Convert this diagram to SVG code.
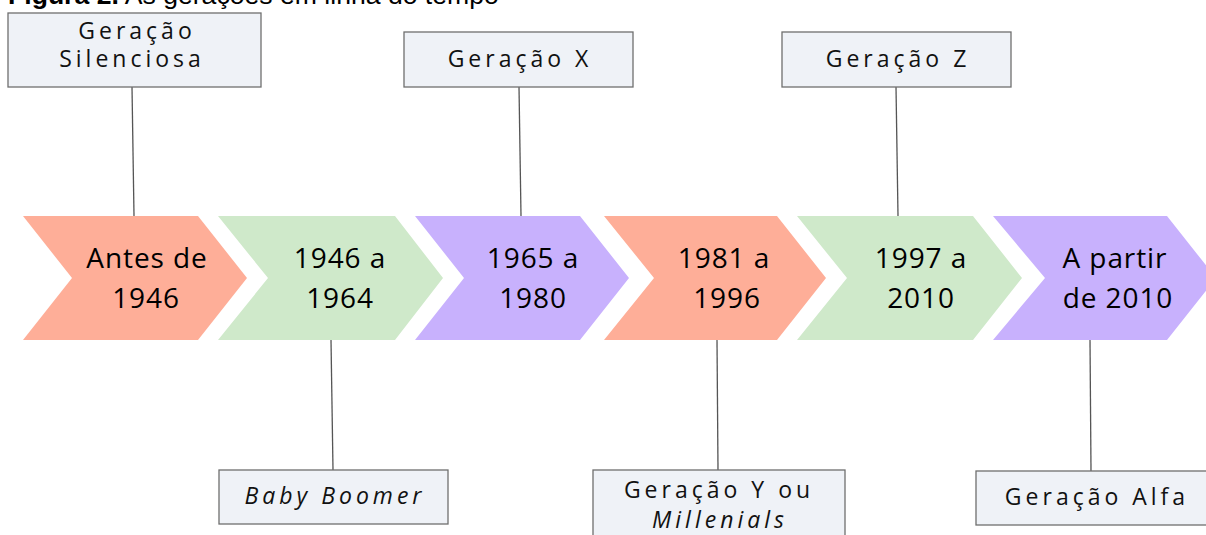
<svg xmlns="http://www.w3.org/2000/svg" width="1206" height="535" viewBox="0 0 1206 535">
<style>
.bg{fill:#ffffff}
.title{font-family:"Liberation Sans",Arial,sans-serif;font-size:26.6px;fill:#000}
.salmon{fill:#feae98}
.green{fill:#cfe9ca}
.purple{fill:#c8b1fd}
.ct{font-family:"Open Sans","DejaVu Sans",sans-serif;font-size:28px;fill:#000;text-anchor:middle;letter-spacing:0.9px}
.box{fill:#eff2f7;stroke:#6f6f6f;stroke-width:1.3}
.bt{font-family:"Open Sans","DejaVu Sans",sans-serif;font-size:23px;fill:#111;text-anchor:middle;letter-spacing:4px}
.it{font-style:italic}
.conn{stroke:#555;stroke-width:1.3;fill:none}
</style>
<rect class="bg" x="0" y="0" width="1206" height="535"/>
<text class="title" x="8" y="4"><tspan font-weight="bold">Figura 2.</tspan> As gerações em linha do tempo</text>

<g id="connectors">
<line class="conn" x1="132" y1="87" x2="134" y2="216"/>
<line class="conn" x1="519" y1="87" x2="521" y2="216"/>
<line class="conn" x1="896" y1="87" x2="898" y2="216"/>
<line class="conn" x1="331" y1="340" x2="333" y2="470"/>
<line class="conn" x1="717" y1="340" x2="718" y2="470"/>
<line class="conn" x1="1090" y1="340" x2="1091" y2="471"/>
</g>

<g id="chev1">
<polygon class="salmon" points="23,216 198,216 247,278 198,340 23,340 72,278"/>
<text class="ct" x="147" y="268">Antes de</text>
<text class="ct" x="146" y="308">1946</text>
</g>
<g id="chev2">
<polygon class="green" points="218,216 395,216 443,278 395,340 218,340 268,278"/>
<text class="ct" x="340" y="268">1946 a</text>
<text class="ct" x="340" y="308">1964</text>
</g>
<g id="chev3">
<polygon class="purple" points="415,216 580,216 629,278 580,340 415,340 464,278"/>
<text class="ct" x="533" y="268">1965 a</text>
<text class="ct" x="533" y="308">1980</text>
</g>
<g id="chev4">
<polygon class="salmon" points="604,216 777,216 826,278 777,340 604,340 654,278"/>
<text class="ct" x="724" y="268">1981 a</text>
<text class="ct" x="727" y="308">1996</text>
</g>
<g id="chev5">
<polygon class="green" points="797,216 973,216 1022,278 973,340 797,340 847,278"/>
<text class="ct" x="921" y="268">1997 a</text>
<text class="ct" x="921" y="308">2010</text>
</g>
<g id="chev6">
<polygon class="purple" points="993,216 1167,216 1216,278 1167,340 993,340 1045,278"/>
<text class="ct" x="1115" y="268">A partir</text>
<text class="ct" x="1118" y="308">de 2010</text>
</g>

<g id="silenciosa">
<rect class="box" x="8" y="13" width="253" height="74"/>
<text class="bt" x="137" y="39">Geração</text>
<text class="bt" x="132" y="67">Silenciosa</text>
</g>
<g id="geracao-x">
<rect class="box" x="404" y="32" width="229" height="55"/>
<text class="bt" x="520" y="67">Geração X</text>
</g>
<g id="geracao-z">
<rect class="box" x="782" y="32" width="229" height="55"/>
<text class="bt" x="898" y="67">Geração Z</text>
</g>
<g id="baby-boomer">
<rect class="box" x="219" y="470" width="229" height="54"/>
<text class="bt it" x="335" y="504">Baby Boomer</text>
</g>
<g id="geracao-y">
<rect class="box" x="593" y="470" width="252" height="80"/>
<text class="bt" x="719" y="498">Geração Y ou</text>
<text class="bt it" x="720" y="528">Millenials</text>
</g>
<g id="geracao-alfa">
<rect class="box" x="976" y="471" width="240" height="54"/>
<text class="bt" x="1097" y="505">Geração Alfa</text>
</g>
</svg>
